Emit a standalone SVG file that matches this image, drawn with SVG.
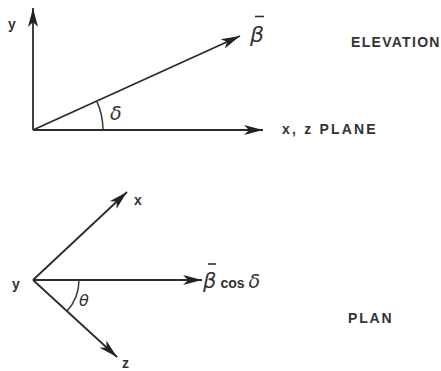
<svg xmlns="http://www.w3.org/2000/svg" width="441" height="371" viewBox="0 0 441 371">
<style>
.ax{stroke:#2b2b2b;stroke-width:1.8;fill:none;marker-end:url(#ah)}
.arc{stroke:#3a3a3a;stroke-width:1.5;fill:none}
.bar{stroke:#333;stroke-width:1.6}
.lb{font-family:"Liberation Sans",Arial,sans-serif;font-weight:bold;fill:#333;font-size:14px}
.gk{font-family:"DejaVu Sans","Liberation Sans",sans-serif;font-style:italic;fill:#333}
</style>
<defs>
<marker id="ah" markerUnits="userSpaceOnUse" viewBox="-20 -6 21 12" markerWidth="21" markerHeight="12" refX="0" refY="0" orient="auto">
<path d="M0,0 L-19,-5 L-14,0 L-19,5 Z" fill="#222"/>
</marker>
</defs>
<rect width="441" height="371" fill="#fff"/>
<g id="connectors">
<line class="ax" x1="33" y1="130" x2="33" y2="8"/>
<line class="ax" x1="33" y1="130" x2="263" y2="130"/>
<line class="ax" x1="33" y1="130" x2="240" y2="36"/>
<path class="arc" d="M96.7,101.1 A70,70 0 0 1 103,130"/>
<line class="ax" x1="33" y1="280" x2="127" y2="192"/>
<line class="ax" x1="33" y1="280" x2="202" y2="280"/>
<line class="ax" x1="33" y1="280" x2="117" y2="357"/>
<path class="arc" d="M79,280 A46,46 0 0 1 67,311"/>
</g>
<g id="elevation-labels">
<text class="lb" x="8" y="29">y</text>
<text class="gk" x="250" y="42" font-size="22">β</text>
<line class="bar" x1="255" y1="16.5" x2="264" y2="16.5"/>
<text class="gk" x="110" y="120" font-size="19">δ</text>
<text class="lb" x="282" y="134" letter-spacing="2.2">x, z PLANE</text>
<text class="lb" x="351" y="47" font-size="13" letter-spacing="1.3">ELEVATION</text>
</g>
<g id="plan-labels">
<text class="lb" x="12" y="289">y</text>
<text class="lb" x="134" y="205">x</text>
<text class="lb" x="122" y="368">z</text>
<text class="gk" x="79" y="306" font-size="16">θ</text>
<text x="203" y="288"><tspan class="gk" font-size="21">β</tspan><tspan class="lb" font-size="15" dx="4">cos</tspan><tspan class="gk" font-size="19" dx="4">δ</tspan></text>
<line class="bar" x1="208" y1="264" x2="216" y2="264"/>
<text class="lb" x="348" y="323" font-size="12.5" letter-spacing="1.8">PLAN</text>
</g>
</svg>
